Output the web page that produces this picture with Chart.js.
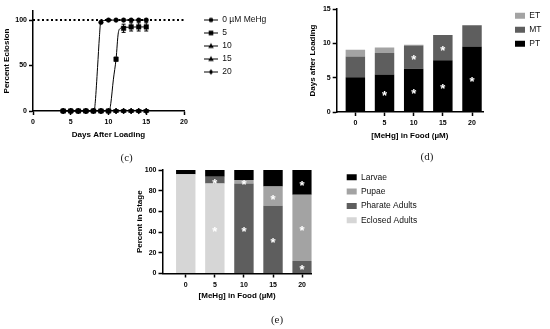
<!DOCTYPE html>
<html><head><meta charset="utf-8">
<script src="https://cdn.jsdelivr.net/npm/chart.js@4.4.1/dist/chart.umd.min.js"></script>
<style>
html,body{margin:0;padding:0;background:#fff;}
#wrap{position:relative;width:550px;height:329px;overflow:hidden;background:#fff;}
canvas{position:absolute;}
.cap{position:absolute;font-family:"Liberation Serif","DejaVu Serif",serif;font-size:11px;color:#222;transform:translate(-50%,-50%);white-space:nowrap;}
</style></head><body>
<div id="wrap">
<canvas id="cC" width="280" height="145" style="left:0;top:0;width:280px;height:145px"></canvas>
<canvas id="cD" width="280" height="145" style="left:270px;top:0;width:280px;height:145px"></canvas>
<canvas id="cE" width="340" height="179" style="left:100px;top:150px;width:340px;height:179px"></canvas>
<div class="cap" style="left:126.7px;top:157px">(c)</div>
<div class="cap" style="left:427px;top:156px">(d)</div>
<div class="cap" style="left:277px;top:319px">(e)</div>
</div>
<script>
// ---------- DATA ----------
// (c) eclosion time course
const days = [4,5,6,7,8,9,10,11,12,13,14,15];
const eclosion0  = [0,0,0,0,0,97.5,100,100,100,100,100,100];
const eclosion5  = [0,0,0,0,0,0,0,57,91,92.5,92.5,92.5];
const eclosion10 = [0,0,0,0,0,0,0,0,0,0,0,0];
const eclosion15 = [0,0,0,0,0,0,0,0,0,0,0,0];
const eclosion20 = [0,0,0,0,0,0,0,0,0,0,0,0];
const sem0 = [0,0,0,0,0,1,0,0,0,0,0,0];
const sem5 = [0,0,0,0,0,0,0,2,4.5,4.5,4.5,4.5];
const fit0Days = [4,8.1,8.25,8.55,8.8,8.95,9.3,10,15];
const fit0Vals = [0,0,10,48,82,97,99.5,100,100];
const fit5Days = [4,10.1,10.3,10.65,11,11.3,11.6,12,15];
const fit5Vals = [0,0,8,35,57,86,91,92,92.5];
const seriesLabelsC = ['0 µM MeHg','5','10','15','20'];
const dayTicks = [0,5,10,15,20];
const eclosionTicks = [0,50,100];
const refLevel = 100;

// (d) developmental stage durations
const doses = ['0','5','10','15','20'];
const ptDays = [5.05,5.45,6.3,7.55,9.55];
const mtDays = [3.05,3.15,3.4,3.65,3.1];
const etDays = [0.95,0.8,0.08,0,0];
const ptSig = [0,1,1,1,1];
const mtSig = [0,0,1,1,0];
const etSig = [0,0,0,0,0];
const durationTicks = [0,5,10,15];

// (e) stage distribution
const eclosedPct = [96,87,0,0,0];
const pharatePct = [0,6.5,87,65.5,12];
const pupaePct   = [0,0,3.3,18.5,64];
const larvaePct  = [4,6.5,9.7,16,24];
const eclosedSig = [0,1,0,0,0];
const pharateSig = [0,1,1,1,1];
const pupaeSig   = [0,0,1,1,1];
const larvaeSig  = [0,0,0,0,1];
const percentTicks = [0,20,40,60,80,100];

// ---------- STYLE ----------
const FONT = '"Liberation Sans", Arial, sans-serif';
Chart.defaults.font.family = FONT;
Chart.defaults.color = '#000';
Chart.defaults.animation = false;

function xAxis(opts) {
  return {
    type: 'linear', min: opts.min, max: opts.max, offset: false,
    border: {display: true, color: '#000', width: 1.5},
    grid: {display: true, offset: false, drawOnChartArea: false, drawTicks: true, tickLength: 4, tickWidth: 1.5, tickColor: '#000', color: '#000'},
    ticks: {font: {size: 7, weight: 'bold'}, color: '#000', padding: 3, maxRotation: 0, autoSkip: false,
      callback: opts.labels ? (v) => opts.labels[v] : (v) => String(v)},
    afterBuildTicks: (s) => { s.ticks = opts.ticks.map(v => ({value: v})); },
    afterFit: (s) => { s.height = opts.height; },
    title: {display: true, text: opts.title, color: '#000', font: {size: 8, weight: 'bold'}, padding: {top: 0, bottom: opts.tpad}},
    stacked: !!opts.stacked
  };
}
function yAxis(opts) {
  return {
    type: 'linear', min: opts.min, max: opts.max,
    border: {display: true, color: '#000', width: 1.5},
    grid: {display: true, drawOnChartArea: false, drawTicks: true, tickLength: 4, tickWidth: 1.5, tickColor: '#000', color: '#000'},
    ticks: {font: {size: 7, weight: 'bold'}, color: '#000', padding: 2},
    afterBuildTicks: (s) => { s.ticks = opts.ticks.map(v => ({value: v})); },
    afterFit: (s) => { s.width = opts.width; },
    title: {display: true, text: opts.title, color: '#000', font: {size: 8, weight: 'bold'}, padding: {top: 2, bottom: 0}},
    stacked: !!opts.stacked
  };
}
function legendAt(x, y) {
  return {
    id: 'legendAt',
    afterLayout(chart) {
      const lg = chart.legend; if (!lg) return;
      const w = lg.width, h = lg.height;
      lg.left = x; lg.top = y; lg.right = x + w + 80; lg.bottom = y + h;
    }
  };
}
const starPlugin = {
  id: 'stars',
  afterDatasetsDraw(chart) {
    const ctx = chart.ctx; const size = 13;
    ctx.save();
    ctx.fillStyle = '#fff'; ctx.font = 'bold ' + size + 'px ' + FONT;
    ctx.textAlign = 'center'; ctx.textBaseline = 'alphabetic';
    chart.data.datasets.forEach((ds, di) => {
      if (!ds.stars) return;
      chart.getDatasetMeta(di).data.forEach((el, i) => {
        if (ds.stars[i]) ctx.fillText('*', el.x, (el.y + el.base) / 2 + 0.57 * size);
      });
    });
    ctx.restore();
  }
};
const errorBarPlugin = {
  id: 'errbars',
  beforeDatasetsDraw(chart) {
    const ctx = chart.ctx; const ys = chart.scales.y;
    ctx.save(); ctx.strokeStyle = '#000'; ctx.lineWidth = 1;
    chart.data.datasets.forEach((ds, di) => {
      if (!ds.err) return;
      chart.getDatasetMeta(di).data.forEach((pt, i) => {
        const e = ds.err[i]; if (!e) return;
        const v = ds.data[i].y;
        const t = ys.getPixelForValue(v + e), b = ys.getPixelForValue(v - e);
        ctx.beginPath();
        ctx.moveTo(pt.x, t); ctx.lineTo(pt.x, b);
        ctx.moveTo(pt.x - 2, t); ctx.lineTo(pt.x + 2, t);
        ctx.moveTo(pt.x - 2, b); ctx.lineTo(pt.x + 2, b);
        ctx.stroke();
      });
    });
    ctx.restore();
  }
};

// legend icons for (c): line with marker
function makeIcon(shape) {
  const c = document.createElement('canvas'); c.width = 14; c.height = 9;
  const g = c.getContext('2d'); g.fillStyle = '#000'; g.strokeStyle = '#000';
  g.lineWidth = 1; g.beginPath(); g.moveTo(0, 4.5); g.lineTo(14, 4.5); g.stroke();
  g.beginPath();
  const x = 7, y = 4.5;
  if (shape === 'circle') g.arc(x, y, 2.3, 0, Math.PI * 2);
  else if (shape === 'rect') g.rect(x - 2.3, y - 2.3, 4.6, 4.6);
  else if (shape === 'tri') { g.moveTo(x, y - 3); g.lineTo(x + 2.8, y + 2); g.lineTo(x - 2.8, y + 2); g.closePath(); }
  else if (shape === 'triDown') { g.moveTo(x, y + 3); g.lineTo(x + 2.8, y - 2); g.lineTo(x - 2.8, y - 2); g.closePath(); }
  else { g.moveTo(x, y - 2.8); g.lineTo(x + 2.2, y); g.lineTo(x, y + 2.8); g.lineTo(x - 2.2, y); g.closePath(); }
  g.fill();
  return c;
}
const iconsC = [makeIcon('circle'), makeIcon('rect'), makeIcon('tri'), makeIcon('triDown'), makeIcon('diamond')];

// ---------- CHART (c) ----------
const seriesC = [eclosion0, eclosion5, eclosion10, eclosion15, eclosion20];
const stylesC = [
  {pointStyle: 'circle', pointRadius: 2.3, rot: 0},
  {pointStyle: 'rect', pointRadius: 3.2, rot: 0},
  {pointStyle: 'triangle', pointRadius: 3, rot: 0},
  {pointStyle: 'triangle', pointRadius: 3, rot: 180},
  {pointStyle: 'rectRot', pointRadius: 2.8, rot: 0}
];
const errsC = [sem0, sem5, null, null, null];
const dsC = seriesC.map((vals, k) => ({
  label: seriesLabelsC[k],
  data: days.map((d, i) => ({x: d, y: vals[i]})),
  showLine: false,
  pointStyle: stylesC[k].pointStyle, pointRadius: stylesC[k].pointRadius, pointRotation: stylesC[k].rot,
  pointBackgroundColor: '#000', pointBorderColor: '#000', pointBorderWidth: 0.5,
  err: errsC[k], clip: false
}));
dsC.push({label: 'fit0', data: fit0Days.map((d, i) => ({x: d, y: fit0Vals[i]})), borderColor: '#000', borderWidth: 1, pointRadius: 0, cubicInterpolationMode: 'monotone', clip: false});
dsC.push({label: 'fit5', data: fit5Days.map((d, i) => ({x: d, y: fit5Vals[i]})), borderColor: '#000', borderWidth: 1, pointRadius: 0, cubicInterpolationMode: 'monotone', clip: false});
dsC.push({label: 'ref', data: [dayTicks[0], dayTicks[dayTicks.length - 1]].map(x => ({x, y: refLevel})), borderColor: '#000', borderWidth: 2, borderDash: [2, 2.5], pointRadius: 0, clip: false});

new Chart(document.getElementById('cC'), {
  type: 'line',
  data: {datasets: dsC},
  options: {
    responsive: false, devicePixelRatio: 1, events: [],
    layout: {padding: {left: 0, top: 11, right: 96, bottom: 0}},
    scales: {
      x: xAxis({min: 0, max: 20, ticks: dayTicks, height: 34, title: 'Days After Loading', tpad: 5}),
      y: yAxis({min: 0, max: 110, ticks: eclosionTicks, width: 33, title: 'Percent Eclosion'})
    },
    plugins: {
      tooltip: {enabled: false},
      legend: {
        position: 'chartArea', align: 'start',
        labels: {
          usePointStyle: true, pointStyleWidth: 14, padding: 4.5,
          font: {size: 8.5}, color: '#111',
          filter: (it) => it.datasetIndex < 5,
          generateLabels: (chart) => Chart.defaults.plugins.legend.labels.generateLabels(chart)
            .map(it => Object.assign(it, {pointStyle: iconsC[it.datasetIndex], fontColor: '#111'}))
        }
      }
    }
  },
  plugins: [legendAt(199.5, 11.25), errorBarPlugin]
});

// ---------- CHART (d) ----------
function barSet(label, vals, color, sig) {
  return {label, data: doses.map((d, i) => ({x: i, y: vals[i]})), backgroundColor: color, borderWidth: 0,
    barPercentage: 0.667, categoryPercentage: 1, stars: sig};
}
new Chart(document.getElementById('cD'), {
  type: 'bar',
  data: {datasets: [
    barSet('PT', ptDays, '#000000', ptSig),
    barSet('MT', mtDays, '#5e5e5e', mtSig),
    barSet('ET', etDays, '#a3a3a3', etSig)
  ]},
  options: {
    responsive: false, devicePixelRatio: 1, events: [],
    layout: {padding: {left: 36.3, top: 9, right: 67, bottom: 0}},
    scales: {
      x: xAxis({min: -0.64, max: 4.377, ticks: [0,1,2,3,4], labels: doses, height: 33, title: '[MeHg] in Food (µM)', tpad: 4.2, stacked: true}),
      y: yAxis({min: 0, max: 15, ticks: durationTicks, width: 30.4, title: 'Days after Loading', stacked: true})
    },
    plugins: {
      tooltip: {enabled: false},
      legend: {position: 'chartArea', align: 'start', reverse: true,
        labels: {boxWidth: 10, boxHeight: 6, padding: 5.5, font: {size: 8.5}, color: '#111'}}
    }
  },
  plugins: [legendAt(239.5, 5.95), starPlugin]
});

// ---------- CHART (e) ----------
new Chart(document.getElementById('cE'), {
  type: 'bar',
  data: {datasets: [
    barSet('Eclosed Adults', eclosedPct, '#d6d6d6', eclosedSig),
    barSet('Pharate Adults', pharatePct, '#5e5e5e', pharateSig),
    barSet('Pupae', pupaePct, '#a3a3a3', pupaeSig),
    barSet('Larvae', larvaePct, '#000000', larvaeSig)
  ]},
  options: {
    responsive: false, devicePixelRatio: 1, events: [],
    layout: {padding: {left: 33.2, top: 20, right: 128.3, bottom: 0}},
    scales: {
      x: xAxis({min: -0.8, max: 4.33, ticks: [0,1,2,3,4], labels: doses, height: 55.5, title: '[MeHg] in Food (µM)', tpad: 28.5, stacked: true}),
      y: yAxis({min: 0, max: 100, ticks: percentTicks, width: 29.3, title: 'Percent in Stage', stacked: true})
    },
    plugins: {
      tooltip: {enabled: false},
      legend: {position: 'chartArea', align: 'start', reverse: true,
        labels: {boxWidth: 10, boxHeight: 6, padding: 5.8, font: {size: 8.5}, color: '#111'}}
    }
  },
  plugins: [legendAt(240.9, 17.25), starPlugin]
});
</script>
</body></html>
